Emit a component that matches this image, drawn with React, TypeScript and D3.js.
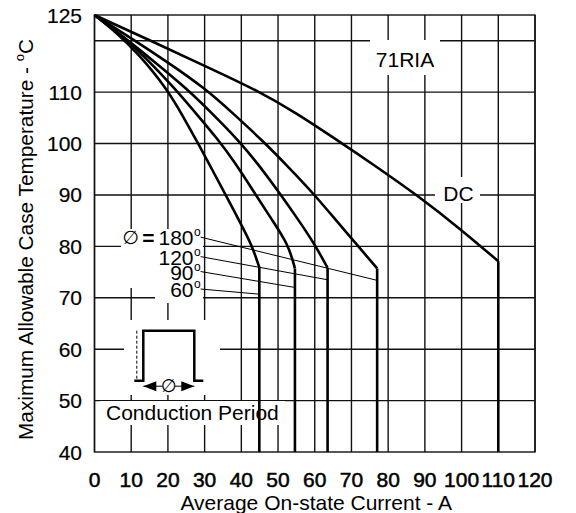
import React, { useEffect, useRef } from "react";
import { select, scaleLinear, line, curveBasis } from "d3";

const width = 576;
const height = 513;
const plot = { left: 94.5, right: 535, top: 15, bottom: 452 };
const font = "'Liberation Sans', Arial, sans-serif";

const xTicks = [0, 10, 20, 30, 40, 50, 60, 70, 80, 90, 100, 110, 120];
const yTickLabels = [125, 110, 100, 90, 80, 70, 60, 50, 40];
const yGridLines = [120, 110, 100, 90, 80, 70, 60, 50];

// [current A, case temp C]
const dcCurve = [
  [0, 125], [15, 120.1], [30, 115.1], [45, 110.1], [55, 105.9], [65, 101.2],
  [76, 95.9], [88, 89.9], [100, 83.2], [110, 77.1],
];
const curve180 = [
  [0, 125], [10, 120.5], [20, 115.8], [30, 110.8], [38, 105.7], [46, 100.4],
  [53, 95.3], [59.6, 90.3], [66, 84.9], [71.4, 80.4], [77, 75.7],
];
const curve120 = [
  [0, 125], [8, 120.7], [16, 116.1], [25.1, 110.7], [32, 105.9], [39.6, 100.35],
  [45, 95.6], [50.5, 90.3], [55.5, 85.2], [60, 80.4], [63.5, 75.8],
];
const curve90 = [
  [0, 125], [9.2, 120.0], [15.5, 115.5], [21.9, 110.7], [28.8, 104.9], [33.5, 100.9],
  [37.8, 96.8], [43.7, 90.3], [48.3, 85.2], [52.8, 80.4], [54.6, 75.7],
];
const curve60 = [
  [0, 125], [6, 121.6], [12, 117.4], [19.7, 110.7], [24.2, 105.2], [28.7, 99.4],
  [32, 95], [35.5, 90.3], [39.2, 85.3], [42.8, 80.4], [44.9, 75.9],
];
const curves = [dcCurve, curve180, curve120, curve90, curve60];

const angleLabels = ["180", "120", "90", "60"];
const leaderStartY = [81.8, 78.0, 75.1, 71.7];
const leaderEnds = [[76.9, 73.4], [63.5, 73.5], [54.6, 72.0], [44.9, 70.7]];

const App = () => {
  const ref = useRef(null);

  useEffect(() => {
    const svg = select(ref.current);
    svg.selectAll("*").remove();

    const x = scaleLinear().domain([0, 120]).range([plot.left, plot.right]);
    const y = scaleLinear().domain([40, 125]).range([plot.bottom, plot.top]);

    const grid = svg.append("g").attr("stroke", "#111").attr("stroke-width", 1.4);
    grid.selectAll("line.v")
      .data(xTicks)
      .join("line")
      .attr("x1", (d) => x(d)).attr("x2", (d) => x(d))
      .attr("y1", plot.top).attr("y2", plot.bottom);
    grid.selectAll("line.h")
      .data(yGridLines)
      .join("line")
      .attr("class", "h")
      .attr("x1", plot.left).attr("x2", plot.right)
      .attr("y1", (d) => y(d)).attr("y2", (d) => y(d));
    grid.append("rect")
      .attr("x", plot.left).attr("y", plot.top)
      .attr("width", plot.right - plot.left).attr("height", plot.bottom - plot.top)
      .attr("fill", "none");

    // white patches behind annotations
    const boxes = [
      [121, 229, 82, 59], [155, 229, 48, 74],
      [124, 320, 96, 75], [100, 401, 185, 24],
      [370, 40, 70, 35], [435, 177, 45, 26],
    ];
    svg.append("g").selectAll("rect")
      .data(boxes)
      .join("rect")
      .attr("x", (d) => d[0]).attr("y", (d) => d[1])
      .attr("width", (d) => d[2]).attr("height", (d) => d[3])
      .attr("fill", "#fff");

    const curveLine = line()
      .x((d) => x(d[0]))
      .y((d) => y(d[1]))
      .curve(curveBasis);

    const cg = svg.append("g").attr("fill", "none").attr("stroke", "#000")
      .attr("stroke-width", 2.6).attr("stroke-linejoin", "round");
    curves.forEach((c) => {
      cg.append("path").attr("d", curveLine(c));
      const knee = c[c.length - 1];
      cg.append("line")
        .attr("x1", x(knee[0])).attr("x2", x(knee[0]))
        .attr("y1", y(knee[1])).attr("y2", y(40));
    });

    // leader lines + angle labels
    const lx = x(28.9);
    angleLabels.forEach((a, i) => {
      svg.append("line")
        .attr("x1", lx).attr("y1", y(leaderStartY[i]))
        .attr("x2", x(leaderEnds[i][0])).attr("y2", y(leaderEnds[i][1]))
        .attr("stroke", "#000").attr("stroke-width", 1);
      const base = y(leaderStartY[i]) + 8;
      svg.append("text")
        .attr("x", 193.5).attr("y", base)
        .attr("text-anchor", "end")
        .attr("font-family", font).attr("font-size", 21)
        .text(a);
      svg.append("text")
        .attr("x", 194).attr("y", base - 9)
        .attr("font-family", font).attr("font-size", 12)
        .text("o");
    });
    svg.append("text")
      .attr("x", 130.5).attr("y", y(leaderStartY[0]) + 7)
      .attr("text-anchor", "middle")
      .attr("font-family", "'DejaVu Sans', sans-serif").attr("font-size", 19)
      .text("∅");
    svg.append("text")
      .attr("x", 148.5).attr("y", y(leaderStartY[0]) + 8)
      .attr("text-anchor", "middle")
      .attr("font-family", font).attr("font-size", 21).attr("font-weight", "bold")
      .text("=");

    // conduction period inset
    const ix = 143.3, iy = 330.7, iw = 51, ih = 50;
    const inset = svg.append("g").attr("fill", "none").attr("stroke", "#000");
    inset.append("line")
      .attr("x1", ix - 6.5).attr("x2", ix - 6.5).attr("y1", iy).attr("y2", iy + ih)
      .attr("stroke-width", 1).attr("stroke-dasharray", "3,2");
    inset.append("path")
      .attr("d", `M${ix - 9},${iy + ih}H${ix}V${iy}H${ix + iw}V${iy + ih}H${ix + iw + 9}`)
      .attr("stroke-width", 2.5);
    const ay = iy + ih + 5.5;
    inset.append("line")
      .attr("x1", ix).attr("x2", ix + iw).attr("y1", ay).attr("y2", ay)
      .attr("stroke-width", 1);
    svg.append("path")
      .attr("d", `M${ix},${ay}l13,-5v10z M${ix + iw},${ay}l-13,-5v10z`)
      .attr("fill", "#000");
    svg.append("rect")
      .attr("x", ix + iw / 2 - 6).attr("y", ay - 6).attr("width", 12).attr("height", 12)
      .attr("fill", "#fff");
    svg.append("text")
      .attr("x", ix + iw / 2).attr("y", ay + 6)
      .attr("text-anchor", "middle")
      .attr("font-family", "'DejaVu Sans', sans-serif").attr("font-size", 18)
      .text("∅");
    svg.append("text")
      .attr("x", 106).attr("y", 419.5)
      .attr("font-family", font).attr("font-size", 21)
      .text("Conduction Period");

    svg.append("text")
      .attr("x", 405).attr("y", 66.5)
      .attr("text-anchor", "middle")
      .attr("font-family", font).attr("font-size", 21)
      .text("71RIA");
    svg.append("text")
      .attr("x", 458.5).attr("y", 200.5)
      .attr("text-anchor", "middle")
      .attr("font-family", font).attr("font-size", 21)
      .text("DC");

    // tick labels
    svg.append("g").selectAll("text")
      .data(xTicks)
      .join("text")
      .attr("x", (d) => x(d)).attr("y", 487)
      .attr("text-anchor", "middle")
      .attr("font-family", font).attr("font-size", 21)
      .attr("stroke", "#000").attr("stroke-width", 0.5)
      .text((d) => d);
    svg.append("g").selectAll("text")
      .data(yTickLabels)
      .join("text")
      .attr("x", 82).attr("y", (d) => y(d) + 7.5)
      .attr("text-anchor", "end")
      .attr("font-family", font).attr("font-size", 21)
      .attr("stroke", "#000").attr("stroke-width", 0.2)
      .text((d) => d);

    svg.append("text")
      .attr("x", (plot.left + plot.right) / 2 + 1.5).attr("y", 509.5)
      .attr("text-anchor", "middle")
      .attr("font-family", font).attr("font-size", 21)
      .text("Average On-state Current - A");

    const yt = svg.append("text")
      .attr("transform", "translate(33,440) rotate(-90)")
      .attr("font-family", font).attr("font-size", 20.8);
    yt.append("tspan").text("Maximum Allowable Case Temperature - ");
    yt.append("tspan").attr("font-size", 13).attr("dy", -9).text("o");
    yt.append("tspan").attr("dy", 9).text("C");
  }, []);

  return (
    <svg
      ref={ref}
      width={width}
      height={height}
      style={{ position: "absolute", left: 0, top: 0, background: "#fff" }}
    />
  );
};

export default App;
